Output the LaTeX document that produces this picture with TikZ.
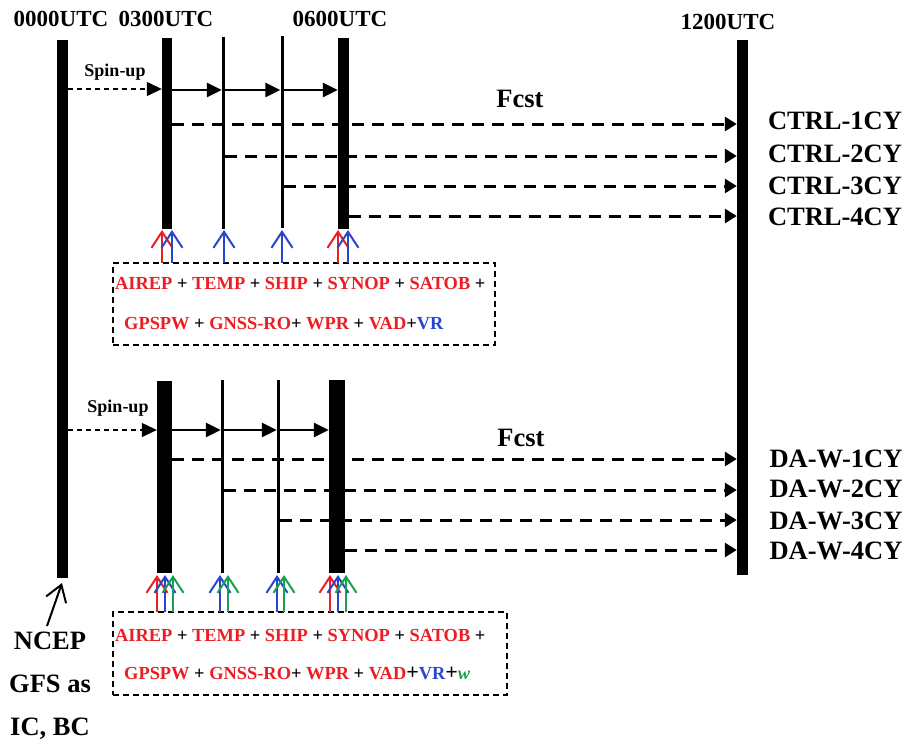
\documentclass[tikz,border=0pt]{standalone}
\usepackage{fontspec}
\setmainfont{Liberation Serif}
\usetikzlibrary{arrows.meta}
\definecolor{obsred}{RGB}{235,30,36}
\definecolor{obsblue}{RGB}{40,70,205}
\definecolor{obsgreen}{RGB}{25,160,80}
\tikzset{
  bar/.style={fill=black, draw=none, inner sep=0pt, minimum width=#1},
  utc/.style={font=\fontsize{23}{26}\selectfont\bfseries, inner sep=0pt},
  lbl/.style={font=\fontsize{26.5}{30}\selectfont\bfseries, inner sep=0pt},
  spin/.style={font=\fontsize{18}{21}\selectfont\bfseries, inner sep=0pt},
  obs/.style={font=\fontsize{18.4}{21}\selectfont\bfseries, inner sep=0pt, anchor=west},
  obsbox/.style={draw=black, line width=2pt, dash pattern=on 6pt off 4pt, inner sep=0pt},
  spinarrow/.style={line width=1.3pt, dash pattern=on 5pt off 4pt, -{Triangle[length=15pt,width=14pt]}},
  steparrow/.style={line width=2.6pt, -{Triangle[length=15pt,width=14pt]}},
  fcstarrow/.style={line width=3pt, dash pattern=on 12pt off 8pt, -{Triangle[length=12pt,width=14pt]}},
  obsarrow/.style={line width=2pt, -{Straight Barb[length=16pt,width=21pt]}},
}
\newcommand{\R}[1]{\textcolor{obsred}{#1}}
\begin{document}
\begin{tikzpicture}[x=1pt,y=-1pt]
\useasboundingbox (0,0) rectangle (904,740);
% time labels
\node[utc] (u0) at (61,19) {0000UTC};
\node[utc] (u3) at (166,19) {0300UTC};
\node[utc] (u6) at (340,19) {0600UTC};
\node[utc] (u12) at (728,22) {1200UTC};
% long bars
\node[bar=11pt, minimum height=538pt] (b0) at (62.5,309) {};
\node[bar=11pt, minimum height=535pt] (b12) at (742.5,307.5) {};
% top panel bars
\node[bar=10pt, minimum height=191pt] (t3) at (167,133.5) {};
\node[bar=3pt, minimum height=192pt] (t4) at (223.5,133) {};
\node[bar=3pt, minimum height=192pt] (t5) at (282,132) {};
\node[bar=11pt, minimum height=191pt] (t6) at (343.5,133.5) {};
% bottom panel bars
\node[bar=15pt, minimum height=192pt] (d3) at (164.5,477) {};
\node[bar=3pt, minimum height=193pt] (d4) at (222.5,476.5) {};
\node[bar=3pt, minimum height=193pt] (d5) at (278.5,476.5) {};
\node[bar=16pt, minimum height=193pt] (d6) at (337,476.5) {};
% top panel
\node[spin] (sp1) at (115,72) {Spin-up};
\draw[spinarrow] (b0.east |- 0,89) -- (t3.west |- 0,89);
\draw[steparrow] (t3.east |- 0,90) -- (t4.west |- 0,90);
\draw[steparrow] (t4.east |- 0,90) -- (t5.west |- 0,90);
\draw[steparrow] (t5.east |- 0,90) -- (t6.west |- 0,90);
\node[lbl] (f1) at (520,99) {Fcst};
\draw[fcstarrow] (t3.east |- 0,124) -- (b12.west |- 0,124);
\draw[fcstarrow] (t4.east |- 0,156) -- (b12.west |- 0,156);
\draw[fcstarrow] (t5.east |- 0,186) -- (b12.west |- 0,186);
\draw[fcstarrow] (t6.east |- 0,216) -- (b12.west |- 0,216);
\node[lbl] (c1) at (835,121) {CTRL-1CY};
\node[lbl] (c2) at (835,154) {CTRL-2CY};
\node[lbl] (c3) at (835,186) {CTRL-3CY};
\node[lbl] (c4) at (835,217) {CTRL-4CY};
\node[obsbox, minimum width=382pt, minimum height=82pt] (box1) at (304,304) {};
\node[obs] (o1a) at (115,283) {\R{AIREP} + \R{TEMP} + \R{SHIP} + \R{SYNOP} + \R{SATOB} +};
\node[obs] (o1b) at (124,324) {\R{GPSPW} + \R{GNSS-RO}+ \R{WPR} + \R{VAD}+\textcolor{obsblue}{VR}};
\draw[obsarrow, obsred] (162,263) -- (162,230);
\draw[obsarrow, obsblue] (172,263) -- (172,230);
\draw[obsarrow, obsblue] (224,263) -- (224,230);
\draw[obsarrow, obsblue] (282,263) -- (282,230);
\draw[obsarrow, obsred] (338,263) -- (338,230);
\draw[obsarrow, obsblue] (348,263) -- (348,230);
% bottom panel
\node[spin] (sp2) at (118,408) {Spin-up};
\draw[spinarrow] (b0.east |- 0,430) -- (d3.west |- 0,430);
\draw[steparrow] (d3.east |- 0,430) -- (d4.west |- 0,430);
\draw[steparrow] (d4.east |- 0,430) -- (d5.west |- 0,430);
\draw[steparrow] (d5.east |- 0,430) -- (d6.west |- 0,430);
\node[lbl] (f2) at (521,438) {Fcst};
\draw[fcstarrow] (d3.east |- 0,459) -- (b12.west |- 0,459);
\draw[fcstarrow] (d4.east |- 0,490) -- (b12.west |- 0,490);
\draw[fcstarrow] (d5.east |- 0,520) -- (b12.west |- 0,520);
\draw[fcstarrow] (d6.east |- 0,550) -- (b12.west |- 0,550);
\node[lbl] (w1) at (836,459) {DA-W-1CY};
\node[lbl] (w2) at (836,489) {DA-W-2CY};
\node[lbl] (w3) at (836,521) {DA-W-3CY};
\node[lbl] (w4) at (836,551) {DA-W-4CY};
\node[obsbox, minimum width=394pt, minimum height=83pt] (box2) at (310,653.5) {};
\node[obs] (o2a) at (115,635) {\R{AIREP} + \R{TEMP} + \R{SHIP} + \R{SYNOP} + \R{SATOB} +};
\node[obs] (o2b) at (124,673) {\R{GPSPW} + \R{GNSS-RO}+ \R{WPR} + \R{VAD}{\fontsize{22}{22}\selectfont +}\textcolor{obsblue}{VR}{\fontsize{22}{22}\selectfont +}\textcolor{obsgreen}{\itshape w}};
\draw[obsarrow, obsred] (157,612) -- (157,575);
\draw[obsarrow, obsblue] (165,612) -- (165,575);
\draw[obsarrow, obsgreen] (173,612) -- (173,575);
\draw[obsarrow, obsblue] (220,612) -- (220,575);
\draw[obsarrow, obsgreen] (228,612) -- (228,575);
\draw[obsarrow, obsblue] (277,612) -- (277,575);
\draw[obsarrow, obsgreen] (284,612) -- (284,575);
\draw[obsarrow, obsred] (330,612) -- (330,575);
\draw[obsarrow, obsblue] (338,612) -- (338,575);
\draw[obsarrow, obsgreen] (346,612) -- (346,575);
% NCEP
\node[lbl, align=center, font=\fontsize{26.5}{43}\selectfont\bfseries] (ncep) at (50,686) {NCEP\\GFS as\\IC, BC};
\coordinate (ncept) at (47,626);
\coordinate (ncepg) at (62,583);
\draw[obsarrow, black] (ncept) -- (ncepg);
\end{tikzpicture}
\end{document}
